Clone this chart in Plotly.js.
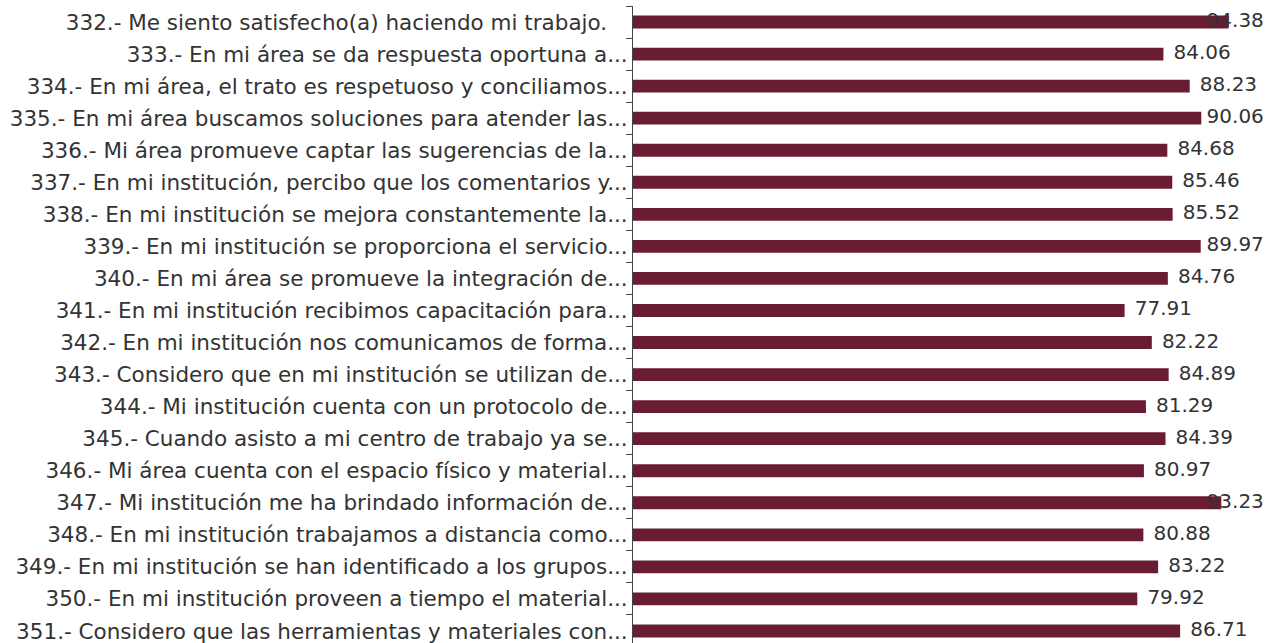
<!DOCTYPE html>
<html>
<head>
<meta charset="utf-8">
<script src="https://cdn.plot.ly/plotly-3.0.1.min.js"></script>
<style>
html,body{margin:0;padding:0;overflow:hidden;background:#fff;}
#chart{width:1273px;height:650px;}
</style>
</head>
<body>
<div id="chart"></div>
<script>
const categories = [
  "332.- Me siento satisfecho(a) haciendo mi trabajo.\u00a0\u00a0\u00a0",
  "333.- En mi área se da respuesta oportuna a...",
  "334.- En mi área, el trato es respetuoso y conciliamos...",
  "335.- En mi área buscamos soluciones para atender las...",
  "336.- Mi área promueve captar las sugerencias de la...",
  "337.- En mi institución, percibo que los comentarios y...",
  "338.- En mi institución se mejora constantemente la...",
  "339.- En mi institución se proporciona el servicio...",
  "340.- En mi área se promueve la integración de...",
  "341.- En mi institución recibimos capacitación para...",
  "342.- En mi institución nos comunicamos de forma...",
  "343.- Considero que en mi institución se utilizan de...",
  "344.- Mi institución cuenta con un protocolo de...",
  "345.- Cuando asisto a mi centro de trabajo ya se...",
  "346.- Mi área cuenta con el espacio físico y material...",
  "347.- Mi institución me ha brindado información de...",
  "348.- En mi institución trabajamos a distancia como...",
  "349.- En mi institución se han identificado a los grupos...",
  "350.- En mi institución proveen a tiempo el material...",
  "351.- Considero que las herramientas y materiales con..."
];
const values = [94.38, 84.06, 88.23, 90.06, 84.68, 85.46, 85.52, 89.97, 84.76, 77.91,
                82.22, 84.89, 81.29, 84.39, 80.97, 93.23, 80.88, 83.22, 79.92, 86.71];
const valueLabels = values.map(v => v.toFixed(2));

const labelPad = 1.6;   // gap between bar end and label (axis units)
const labelCap = 90.9;  // labels are kept inside the frame
const labelX = values.map(v => Math.min(v + labelPad, labelCap));

const barColor = '#6a1c33';
const fontFam = '"DejaVu Sans", sans-serif';
const textColor = '#333333';

const traces = [
  {
    type: 'bar',
    orientation: 'h',
    x: values,
    y: categories,
    width: 0.4,
    marker: {color: barColor, line: {width: 0}},
    hoverinfo: 'x+y'
  },
  {
    type: 'scatter',
    mode: 'text',
    x: labelX,
    y: categories,
    text: valueLabels,
    textposition: 'middle right',
    textfont: {family: fontFam, size: 20, color: textColor},
    cliponaxis: false,
    hoverinfo: 'skip'
  }
];

const layout = {
  width: 1273,
  height: 650,
  margin: {l: 633, r: 8.5, t: 6, b: 3, pad: 0},
  showlegend: false,
  paper_bgcolor: '#ffffff',
  plot_bgcolor: '#ffffff',
  xaxis: {
    range: [0, 100],
    visible: false,
    fixedrange: true
  },
  yaxis: {
    type: 'category',
    range: [categories.length - 0.5, -0.5],
    autorange: false,
    showline: true,
    linecolor: '#444444',
    linewidth: 1,
    ticks: 'outside',
    tickson: 'boundaries',
    ticklen: 6,
    tickcolor: '#444444',
    tickwidth: 1,
    showgrid: false,
    zeroline: false,
    automargin: false,
    tickfont: {family: fontFam, size: 21.5, color: textColor},
    fixedrange: true
  }
};

Plotly.newPlot('chart', traces, layout, {displayModeBar: false, staticPlot: true});
</script>
</body>
</html>
